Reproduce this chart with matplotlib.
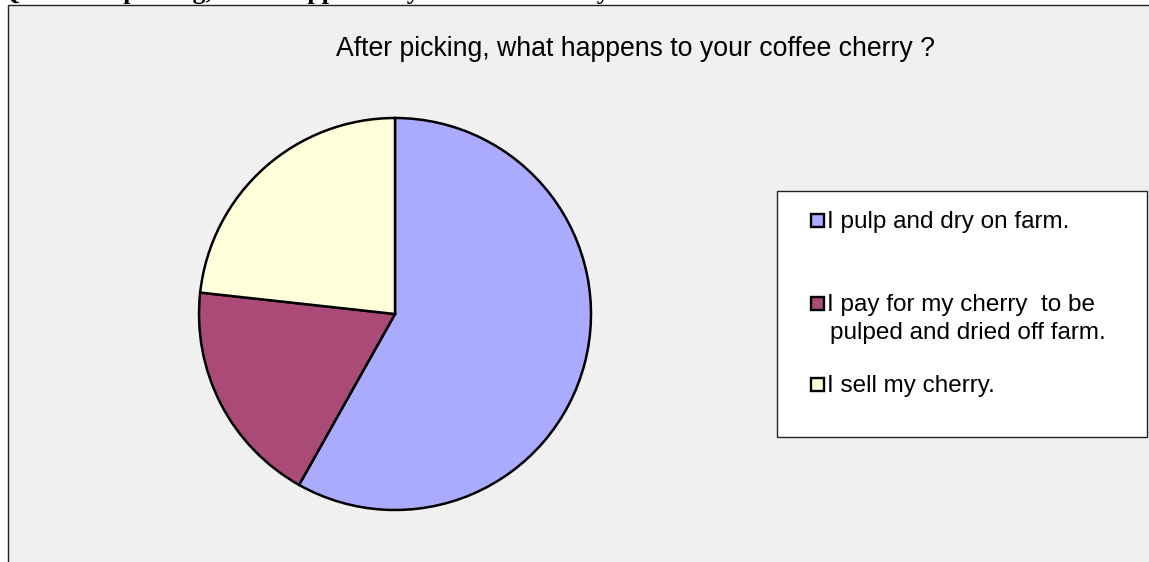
import matplotlib
matplotlib.use("Agg")
import matplotlib.pyplot as plt
from matplotlib.patches import Rectangle

# Survey responses (counts)
categories = [
    "I pulp and dry on farm.",
    "I pay for my cherry  to be\npulped and dried off farm.",
    "I sell my cherry.",
]
counts = [25, 8, 10]
colors = ["#AAAAFF", "#A94B76", "#FFFFD9"]

title = "After picking, what happens to your coffee cherry ?"
question = "Q17. After picking, what happens to your coffee cherry?"

W, H = 1149, 562
DPI = 100
fig = plt.figure(figsize=(W / DPI, H / DPI), dpi=DPI)
fig.patch.set_facecolor("white")


def fx(px):
    return px / W


def fy(py):
    return 1 - py / H


# Chart area background and border (extends past the right and bottom edges)
top, left = 4.5, 7.5
fig.patches.append(Rectangle((fx(left), fy(H + 20)), fx(W + 20), (H + 20 - top) / H,
                             transform=fig.transFigure, facecolor="#F0F0F0",
                             edgecolor="#222222", linewidth=1.0, zorder=-5))

# Question heading above the chart, mostly cut off at the top edge
fig.text(fx(0), fy(-1.5), question, family="Liberation Serif", weight="bold",
         fontsize=18.7, va="baseline", ha="left", color="black", zorder=-6)

# Chart title
fig.text(fx(635), fy(56), title, family="Liberation Sans", fontsize=19.2,
         ha="center", va="baseline", color="black")

# Pie
cx, cy, r = 395, 314, 196
ax = fig.add_axes([fx(cx - r), fy(cy + r), 2 * r / W, 2 * r / H])
ax.set_zorder(2)
ax.pie(counts, colors=colors, startangle=90, counterclock=False, radius=1,
       wedgeprops=dict(edgecolor="black", linewidth=1.8))
ax.set_xlim(-1, 1)
ax.set_ylim(-1, 1)
ax.set_aspect("auto")
ax.axis("off")

# Legend box
lx0, ly0, lx1, ly1 = 777, 191, 1147, 437
fig.patches.append(Rectangle((fx(lx0), fy(ly1)), fx(lx1 - lx0), (ly1 - ly0) / H,
                             transform=fig.transFigure, facecolor="white",
                             edgecolor="#222222", linewidth=1.0, zorder=1))
baselines = [228, 311, 392]
line_gap = 28
for label, color, base in zip(categories, colors, baselines):
    fig.patches.append(Rectangle((fx(810.5), fy(base - 1)), fx(13), 13 / H,
                                 transform=fig.transFigure, facecolor=color,
                                 edgecolor="black", linewidth=1.7, zorder=2))
    for i, line in enumerate(label.split("\n")):
        fig.text(fx(827 if i == 0 else 830), fy(base + line_gap * i), line,
                 family="Liberation Sans", fontsize=17.5,
                 ha="left", va="baseline", color="black", zorder=3)

fig.savefig("out.png", dpi=DPI)
